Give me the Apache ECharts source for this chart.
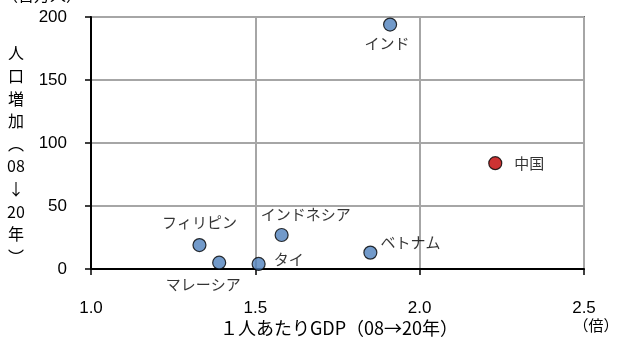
<!DOCTYPE html>
<html>
<head>
<meta charset="utf-8">
<script src="https://cdn.jsdelivr.net/npm/echarts@6/dist/echarts.min.js"></script>
<style>
  html, body { margin: 0; padding: 0; background: #fff; }
  #chart { width: 619px; height: 347px; }
</style>
</head>
<body>
<div id="chart"></div>
<script>
// Countries, per-capita GDP growth ratio (2008→2020) and population increase (millions)
const countries = ['インド', '中国', 'フィリピン', 'マレーシア', 'タイ', 'インドネシア', 'ベトナム'];
const gdpRatio = [1.91, 2.23, 1.33, 1.39, 1.51, 1.58, 1.85];
const popIncrease = [194, 84, 19, 5, 4, 27, 13];
const xTicks = [1.0, 1.5, 2.0, 2.5];
const yTicks = [0, 50, 100, 150, 200];

// Label placement per country
const labelPlace = {
  'インド': { position: 'bottom', offset: [-3, -1] },
  '中国': { position: 'right', offset: [7, 0] },
  'フィリピン': { position: 'top', offset: [0, -3] },
  'マレーシア': { position: 'bottom', offset: [-16, 2] },
  'タイ': { position: 'right', offset: [3, -5] },
  'インドネシア': { position: 'top', offset: [24, -1] },
  'ベトナム': { position: 'right', offset: [-2, -10] }
};

const jpFont = '"Noto Sans CJK JP", sans-serif';
const numFont = '"Liberation Sans", Arial, sans-serif';

const points = countries.map((name, i) => ({
  name: name,
  value: [gdpRatio[i], popIncrease[i]],
  itemStyle: {
    color: name === '中国' ? '#C00000' : '#4F81BD',
    borderColor: '#000',
    borderWidth: 1.2
  },
  label: Object.assign({
    show: true,
    formatter: name,
    color: '#000',
    fontSize: 15,
    fontFamily: jpFont
  }, labelPlace[name])
}));

const chart = echarts.init(document.getElementById('chart'));
chart.setOption({
  animation: false,
  grid: {
    left: 91, right: 35, top: 17, bottom: 78,
    show: true, borderColor: '#000', borderWidth: 1.5
  },
  xAxis: {
    type: 'value',
    min: xTicks[0], max: xTicks[xTicks.length - 1], interval: 0.5,
    axisLine: { show: true, lineStyle: { color: '#000', width: 2 } },
    axisTick: { show: true, length: 6, lineStyle: { color: '#000', width: 1.5 } },
    splitLine: { show: true, lineStyle: { color: '#A6A6A6', width: 2 } },
    axisLabel: {
      margin: 31, fontSize: 17, color: '#000', fontFamily: numFont,
      formatter: v => v.toFixed(1)
    }
  },
  yAxis: {
    type: 'value',
    min: yTicks[0], max: yTicks[yTicks.length - 1], interval: 50,
    axisLine: { show: true, lineStyle: { color: '#000', width: 2 } },
    axisTick: { show: true, length: 6, lineStyle: { color: '#000', width: 1.5 } },
    splitLine: { show: true, lineStyle: { color: '#A6A6A6', width: 2 } },
    axisLabel: { margin: 24, fontSize: 17, color: '#000', fontFamily: numFont }
  },
  graphic: [
    {
      type: 'text', x: 2, y: -13,
      style: { text: '（百万人）', fontSize: 16, fontFamily: jpFont, fill: '#000' }
    },
    {
      type: 'text', x: 16, y: 42,
      style: {
        text: '人\n口\n増\n加\n︵\n08\n↓\n20\n年\n︶',
        fontSize: 16, lineHeight: 22.6, align: 'center', fontFamily: jpFont, fill: '#000'
      }
    },
    {
      type: 'text', x: 339, y: 319,
      style: { text: '１人あたりGDP（08→20年）', fontSize: 18, align: 'center', fontFamily: jpFont, fill: '#000' }
    },
    {
      type: 'text', x: 596, y: 318,
      style: { text: '（倍）', fontSize: 15, align: 'center', fontFamily: jpFont, fill: '#000' }
    }
  ],
  series: [{
    type: 'scatter',
    symbol: 'circle',
    symbolSize: 13,
    data: points
  }]
});
</script>
</body>
</html>
